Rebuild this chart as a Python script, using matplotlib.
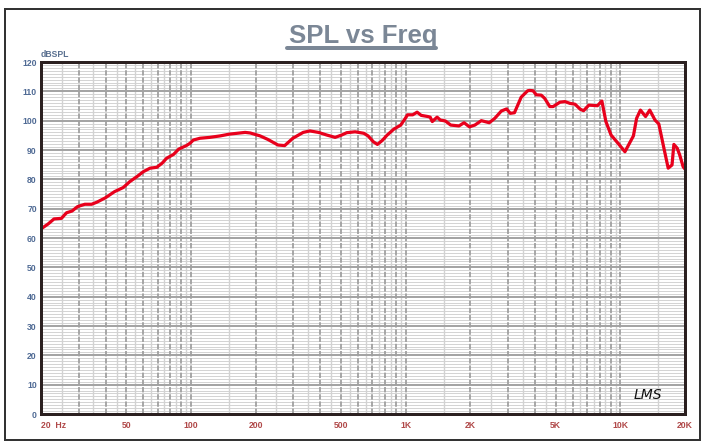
import matplotlib
matplotlib.use("Agg")
import matplotlib.pyplot as plt
from matplotlib.lines import Line2D
from matplotlib.patches import Rectangle
import numpy as np

# ---- data ----
freq_hz = [20, 21.6, 23.0, 24.9, 26.3, 27.9, 29.6, 32, 34.4, 36.4, 39.9, 44.0, 48.3,
           51.8, 55.9, 59.9, 64.4, 69.2, 73.3, 77.0, 82.9, 87.6, 95.1, 98.9, 102.5,
           110, 122, 136.5, 150.6, 178.7, 188.7, 209.8, 228, 254, 273, 298, 333, 358,
           392, 429, 469, 503, 531, 581, 638, 668, 707, 738, 776, 820, 880, 948, 990,
           1020, 1078, 1130, 1181, 1270, 1300, 1330, 1400, 1450, 1530, 1620, 1770,
           1870, 1980, 2100, 2250, 2450, 2600, 2790, 2950, 3070, 3210, 3450, 3700,
           3780, 3920, 4060, 4280, 4440, 4690, 4860, 5230, 5520, 5820, 6150, 6500,
           6740, 7130, 7820, 8200, 8560, 9050, 9750, 10500, 11500, 11900, 12400,
           13100, 13700, 14500, 15100, 15900, 16700, 17400, 17750, 18400, 18900,
           19600, 20000]
spl_db = [63.1, 64.8, 66.5, 66.7, 68.6, 69.2, 70.7, 71.5, 71.5, 72.2, 73.7, 75.8, 77.2,
          79.2, 80.9, 82.6, 83.8, 84.1, 85.5, 87.2, 88.5, 90.3, 91.5, 92.3, 93.4,
          94.0, 94.3, 94.8, 95.4, 96.0, 95.8, 94.8, 93.6, 91.7, 91.5, 94.0, 96.0, 96.5,
          96.0, 95.1, 94.3, 95.1, 95.9, 96.2, 95.7, 94.8, 92.8, 91.9, 93.2, 95.1, 97.1,
          98.5, 100.5, 102.0, 102.0, 102.9, 101.8, 101.4, 101.2, 99.7, 101.2, 100.2,
          99.9, 98.5, 98.2, 99.3, 97.9, 98.5, 100.0, 99.3, 100.8, 103.3, 104.0, 102.5,
          102.7, 108.0, 110.2, 110.3, 110.2, 108.8, 108.7, 107.6, 104.8, 104.8, 106.3,
          106.5, 105.9, 105.6, 103.9, 103.4, 105.3, 105.1, 106.7, 99.7, 95.1, 92.3,
          89.4, 94.8, 100.8, 103.6, 101.4, 103.6, 100.2, 98.9, 91.1, 83.8, 84.9, 91.9,
          90.6, 88.3, 84.3, 83.5]

x_tick_vals = [20, 50, 100, 200, 500, 1000, 2000, 5000, 10000, 20000]
x_tick_labels = ["20  Hz", "50", "100", "200", "500", "1K", "2K", "5K", "10K", "20K"]
y_tick_vals = list(range(0, 121, 10))
y_tick_labels = [str(v) for v in y_tick_vals]

W, H, DPI = 704, 446, 100
fig = plt.figure(figsize=(W / DPI, H / DPI), dpi=DPI)
plt.rcParams['font.family'] = ['Liberation Sans', 'DejaVu Sans']

def px(p):  # pixels to points
    return p * 72.0 / DPI

L, R, T, B = 41, 685, 62, 414
ax = fig.add_axes([L / W, (H - B) / H, (R - L) / W, (B - T) / H])
ax.set_xscale('log')
ax.set_xlim(20, 20000)
ax.set_ylim(0, 120)
ax.set_facecolor('white')

# grid: horizontal
for v in range(0, 121):
    if v % 10 == 0:
        ax.axhline(v, color='#a4a4a4', lw=px(2), zorder=1)
    else:
        ax.axhline(v, color='#d4d4d4', lw=px(1), zorder=0.5)
# grid: vertical
for dec in [10, 100, 1000, 10000]:
    for n in range(1, 10):
        f = n * dec
        if 20 < f < 20000:
            ax.axvline(f, color='#a0a0a0', lw=px(1.8), ls=(0, (3, 1)), zorder=1.2)
        fh = (n + 0.5) * dec
        if 20 < fh < 20000:
            ax.axvline(fh, color='#d2d2d2', lw=px(1.4), zorder=0.8)

ax.plot(freq_hz, spl_db, color='#e8001c', lw=px(3.2), zorder=5, solid_joinstyle='round')

for s in ax.spines.values():
    s.set_color('#2b2020')
    s.set_linewidth(px(3))
    s.set_zorder(6)

ax.set_xticks(x_tick_vals)
ax.set_xticklabels(x_tick_labels)
ax.xaxis.set_minor_locator(matplotlib.ticker.NullLocator())
ax.set_yticks(y_tick_vals)
ax.set_yticklabels(y_tick_labels)
ax.tick_params(axis='both', length=0)
ax.tick_params(axis='x', pad=5, labelsize=6.2, labelcolor='#b04848')
ax.tick_params(axis='y', pad=3, labelsize=6.2, labelcolor='#4f6a94')
for t in ax.get_xticklabels() + ax.get_yticklabels():
    t.set_fontweight('bold')
ax.get_xticklabels()[0].set_horizontalalignment('left')

ax.text(0.0, 1.008, 'dBSPL', transform=ax.transAxes, ha='left', va='bottom',
        fontsize=6.2, fontweight='bold', color='#5a7090')

# LMS signature
ax.text(0.965, 0.035, 'LMS', transform=ax.transAxes, ha='right', va='bottom',
        fontsize=10, fontstyle='italic', family='DejaVu Sans', fontweight='light',
        color='#111111', zorder=7)

# title
cx = (L + R) / 2 / W
fig.text(cx, 1 - 36 / H, 'SPL vs Freq', ha='center', va='center', fontsize=18.5,
         fontweight='bold', color='#7b8796')
fig.add_artist(Line2D([287 / W, 436 / W], [1 - 47.5 / H, 1 - 47.5 / H], color='#7b8796',
                      lw=px(4), solid_capstyle='round'))

# outer border
fig.add_artist(Rectangle((5 / W, 1 - 440 / H), 695 / W, 431 / H, fill=False,
                         edgecolor='#333333', lw=px(2)))

fig.savefig('out.png', dpi=DPI)
